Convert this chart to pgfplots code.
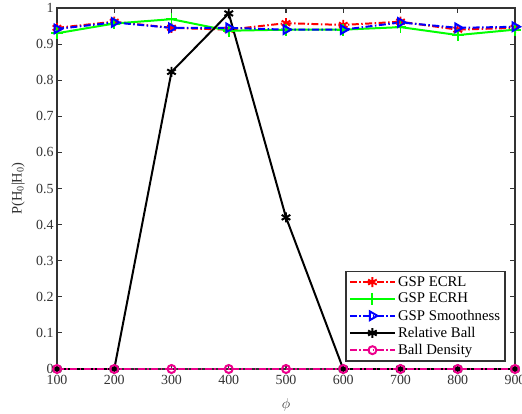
\documentclass[border=0pt]{standalone}
\usepackage{fontspec}
\setmainfont{Liberation Serif}
\usepackage{pgfplots}
\pgfplotsset{compat=1.18}

\begin{document}
\begin{tikzpicture}
\begin{axis}[
    name=ax,
    scale only axis,
    width=458bp, height=361bp,
    xmin=100, xmax=900,
    ymin=0, ymax=1,
    xtick={100,200,...,900},
    ytick={0,0.1,...,1},
    yticklabels={0,0.1,0.2,0.3,0.4,0.5,0.6,0.7,0.8,0.9,1},
    /pgf/number format/assume math mode=true,
    tick label style={font=\fontsize{14}{16}\selectfont, color=black!80},
    xticklabel style={yshift=-2.5pt},
    xlabel={$\phi$},
    ylabel={P(H\textsubscript{0}|H\textsubscript{0})},
    label style={font=\fontsize{14.5}{16}\selectfont, color=black!80},
    xlabel style={at={(axis description cs:0.5,-0.1)}, anchor=center},
    ylabel style={at={(axis description cs:-0.085,0.5)}, anchor=center},
    axis line style={line width=1.1pt, black!80},
    major tick length=5pt,
    tick style={line width=1.1pt, black!80},
    clip=false,
    legend style={at={(0.98,0.02)}, anchor=south east, draw=black!80, line width=1.5pt,
        font=\fontsize{14.8}{16}\selectfont, row sep=1.5pt, inner sep=3pt},
    legend cell align=left,
    legend image code/.code={
        \draw[mark repeat=2, mark phase=2] plot coordinates {(0cm,0cm) (0.8cm,0cm) (1.6cm,0cm)};},
    every axis plot/.append style={line width=2pt},
]
\addplot[red, dash pattern=on 7pt off 2.5pt on 1.5pt off 2.5pt, mark=asterisk, mark size=5pt,
    mark options={solid}] coordinates {
    (100,0.945) (200,0.962) (300,0.945) (400,0.940) (500,0.958)
    (600,0.953) (700,0.962) (800,0.940) (900,0.945)};
\addlegendentry{GSP ECRL}
\addplot[green, mark=+, mark size=6pt] coordinates {
    (100,0.930) (200,0.957) (300,0.969) (400,0.937) (500,0.940)
    (600,0.940) (700,0.947) (800,0.925) (900,0.940)};
\addlegendentry{GSP ECRH}
\addplot[blue, dash pattern=on 7pt off 2.5pt on 1.5pt off 2.5pt, mark=triangle, mark size=5pt,
    mark options={solid, rotate=-90}] coordinates {
    (100,0.942) (200,0.960) (300,0.945) (400,0.945) (500,0.940)
    (600,0.940) (700,0.960) (800,0.945) (900,0.948)};
\addlegendentry{GSP Smoothness}
\addplot[black, mark=asterisk, mark size=5pt] coordinates {
    (100,0) (200,0) (300,0.823) (400,0.985) (500,0.420)
    (600,0) (700,0) (800,0) (900,0)};
\addlegendentry{Relative Ball}
\addplot[magenta, dash pattern=on 7pt off 2.5pt on 1.5pt off 2.5pt, mark=o, mark size=4pt,
    mark options={solid}] coordinates {
    (100,0) (200,0) (300,0) (400,0) (500,0)
    (600,0) (700,0) (800,0) (900,0)};
\addlegendentry{Ball Density}
\end{axis}
\pgfresetboundingbox
\path ([shift={(-57bp,-45bp)}]ax.south west) rectangle ([shift={(7bp,8bp)}]ax.north east);
\end{tikzpicture}
\end{document}
